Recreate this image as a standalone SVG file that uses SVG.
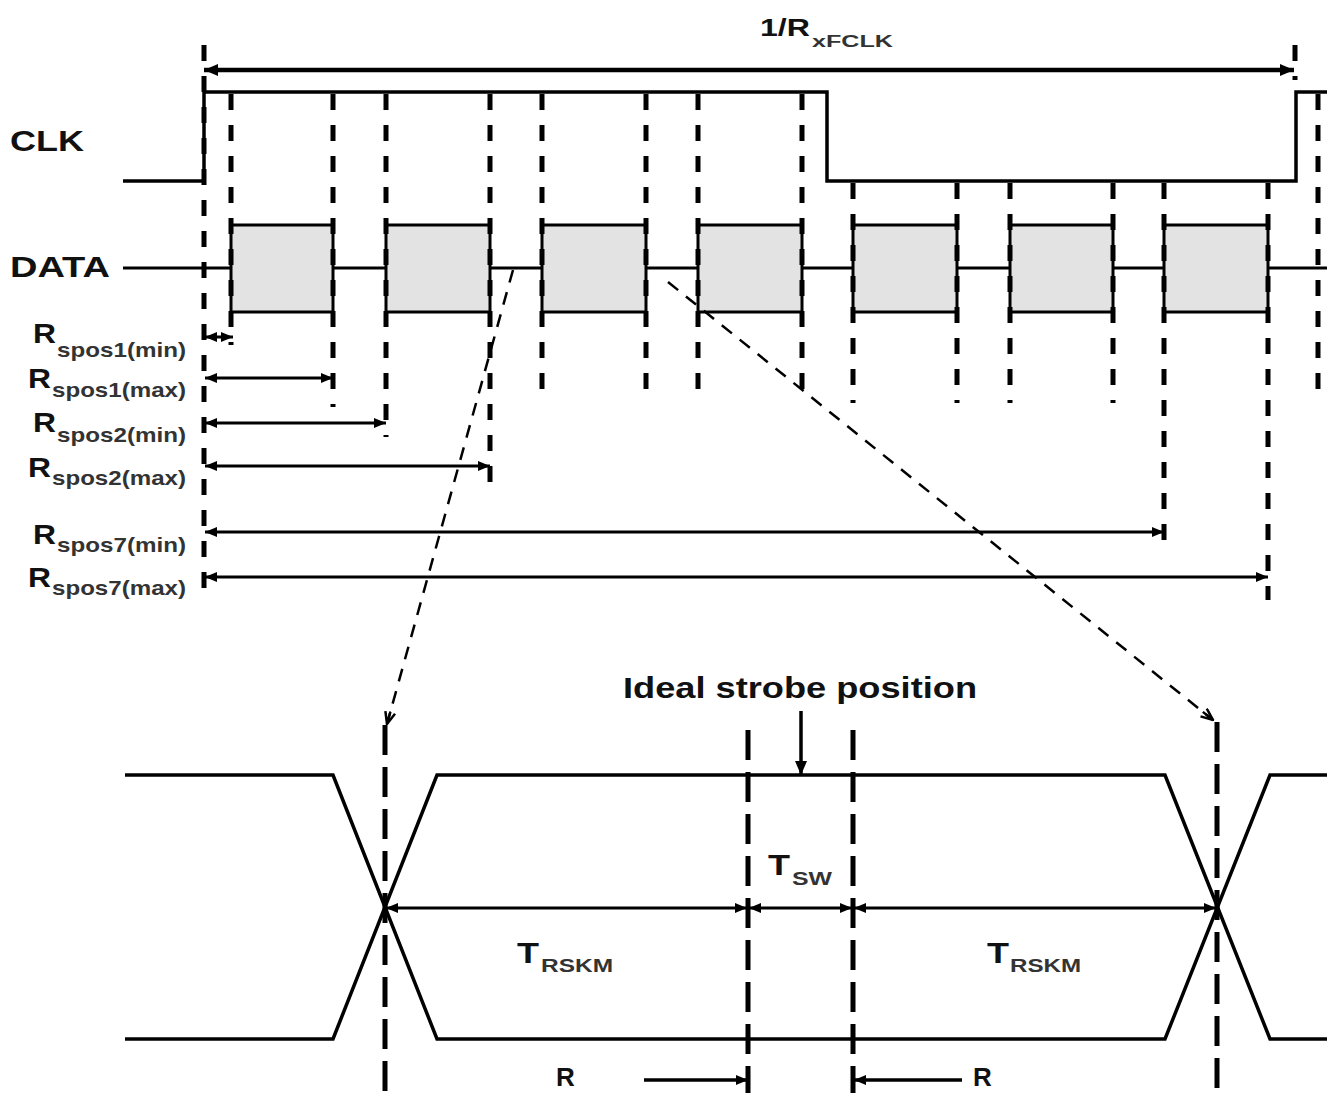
<svg xmlns="http://www.w3.org/2000/svg" width="1327" height="1093" viewBox="0 0 1327 1093">
<style>
text{font-family:"Liberation Sans",Arial,sans-serif;font-weight:bold;fill:#111}
.sub{fill:#333}
.sig{fill:none;stroke:#000;stroke-width:3.5}
.vd{fill:none;stroke:#000;stroke-width:5;stroke-dasharray:16 15}
.vb{fill:none;stroke:#000;stroke-width:5;stroke-dasharray:30 12}
.box{fill:#e3e3e3;stroke:#000;stroke-width:3}
.arr{fill:none;stroke:#000;stroke-width:3;marker-start:url(#ah);marker-end:url(#ah)}
.zoom{fill:none;stroke:#000;stroke-width:2.5;stroke-dasharray:13 10;marker-end:url(#oh)}
</style>
<defs>
<marker id="ah" viewBox="0 0 12 10" refX="12" refY="5" markerWidth="12" markerHeight="10" orient="auto-start-reverse" markerUnits="userSpaceOnUse"><path d="M0,0 L12,5 L0,10 z" fill="#000"/></marker>
<marker id="ahb" viewBox="0 0 14 12" refX="14" refY="6" markerWidth="14" markerHeight="12" orient="auto-start-reverse" markerUnits="userSpaceOnUse"><path d="M0,0 L14,6 L0,12 z" fill="#000"/></marker>
<marker id="oh" viewBox="0 0 14 12" refX="13" refY="6" markerWidth="14" markerHeight="12" orient="auto" markerUnits="userSpaceOnUse"><path d="M1,1 L13,6 L1,11 M13,6 L0,6" fill="none" stroke="#000" stroke-width="2.5"/></marker>
</defs>

<g id="labels">
<text x="10" y="151" font-size="29" textLength="74" lengthAdjust="spacingAndGlyphs">CLK</text>
<text x="10" y="277" font-size="29" textLength="100" lengthAdjust="spacingAndGlyphs">DATA</text>
<text x="760" y="36" font-size="24" textLength="50" lengthAdjust="spacingAndGlyphs">1/R</text>
<text class="sub" x="812" y="47" font-size="16" textLength="81" lengthAdjust="spacingAndGlyphs">xFCLK</text>
</g>

<g id="clk-signal">
<path class="sig" d="M123,181 H204 V92 H827 V181 H1296 V92 H1327"/>
</g>

<g id="data-signal">
<line x1="123" y1="268" x2="1327" y2="268" stroke="#000" stroke-width="3"/>
<rect class="box" x="231" y="225" width="102" height="87"/>
<rect class="box" x="386" y="225" width="104" height="87"/>
<rect class="box" x="542" y="225" width="104" height="87"/>
<rect class="box" x="698" y="225" width="104" height="87"/>
<rect class="box" x="853" y="225" width="104" height="87"/>
<rect class="box" x="1010" y="225" width="103" height="87"/>
<rect class="box" x="1164" y="225" width="104" height="87"/>
</g>

<g id="strobe-lines">
<line class="vd" x1="204" y1="45" x2="204" y2="600"/>
<line class="vd" x1="1295" y1="45" x2="1295" y2="80"/>
<line class="vd" x1="231" y1="94" x2="231" y2="345"/>
<line class="vd" x1="333" y1="94" x2="333" y2="407"/>
<line class="vd" x1="386" y1="94" x2="386" y2="437"/>
<line class="vd" x1="490" y1="94" x2="490" y2="490"/>
<line class="vd" x1="542" y1="94" x2="542" y2="403"/>
<line class="vd" x1="646" y1="94" x2="646" y2="403"/>
<line class="vd" x1="698" y1="94" x2="698" y2="403"/>
<line class="vd" x1="802" y1="94" x2="802" y2="403"/>
<line class="vd" x1="853" y1="183" x2="853" y2="403"/>
<line class="vd" x1="957" y1="183" x2="957" y2="403"/>
<line class="vd" x1="1010" y1="183" x2="1010" y2="403"/>
<line class="vd" x1="1113" y1="183" x2="1113" y2="403"/>
<line class="vd" x1="1164" y1="183" x2="1164" y2="555"/>
<line class="vd" x1="1268" y1="183" x2="1268" y2="600"/>
<line class="vd" x1="1318" y1="94" x2="1318" y2="403"/>
</g>

<g id="period">
<line x1="204" y1="70" x2="1294" y2="70" stroke="#000" stroke-width="4.5" marker-start="url(#ahb)" marker-end="url(#ahb)"/>
</g>

<g id="rspos">
<line class="arr" x1="205" y1="337" x2="233" y2="337"/>
<line class="arr" x1="205" y1="378" x2="333" y2="378"/>
<line class="arr" x1="205" y1="423" x2="386" y2="423"/>
<line class="arr" x1="205" y1="466" x2="490" y2="466" stroke-width="4"/>
<line class="arr" x1="205" y1="532" x2="1164" y2="532"/>
<line class="arr" x1="205" y1="577" x2="1268" y2="577"/>
<text x="33" y="343" font-size="28" textLength="23" lengthAdjust="spacingAndGlyphs">R</text><text class="sub" x="57" y="357" font-size="21" textLength="129" lengthAdjust="spacingAndGlyphs">spos1(min)</text>
<text x="28" y="388" font-size="28" textLength="23" lengthAdjust="spacingAndGlyphs">R</text><text class="sub" x="52" y="397" font-size="21" textLength="134" lengthAdjust="spacingAndGlyphs">spos1(max)</text>
<text x="33" y="432" font-size="28" textLength="23" lengthAdjust="spacingAndGlyphs">R</text><text class="sub" x="57" y="442" font-size="21" textLength="129" lengthAdjust="spacingAndGlyphs">spos2(min)</text>
<text x="28" y="477" font-size="28" textLength="23" lengthAdjust="spacingAndGlyphs">R</text><text class="sub" x="52" y="485" font-size="21" textLength="134" lengthAdjust="spacingAndGlyphs">spos2(max)</text>
<text x="33" y="544" font-size="28" textLength="23" lengthAdjust="spacingAndGlyphs">R</text><text class="sub" x="57" y="552" font-size="21" textLength="129" lengthAdjust="spacingAndGlyphs">spos7(min)</text>
<text x="28" y="587" font-size="28" textLength="23" lengthAdjust="spacingAndGlyphs">R</text><text class="sub" x="52" y="595" font-size="21" textLength="134" lengthAdjust="spacingAndGlyphs">spos7(max)</text>
</g>

<g id="zoom-connectors">
<line class="zoom" x1="513" y1="270" x2="387" y2="724"/>
<line class="zoom" x1="668" y1="282" x2="1213" y2="720"/>
</g>

<g id="eye">
<path class="sig" stroke-width="3" d="M125,775 H333 L437,1039 H1165 L1270,775 H1327"/>
<path class="sig" stroke-width="3" d="M125,1039 H333 L437,775 H1165 L1270,1039 H1327"/>
</g>

<g id="eye-lines">
<line class="vb" x1="385" y1="725" x2="385" y2="1093"/>
<line class="vb" x1="1217" y1="722" x2="1217" y2="1093"/>
<line class="vb" x1="748" y1="730" x2="748" y2="1093"/>
<line class="vb" x1="853" y1="730" x2="853" y2="1093"/>
</g>

<g id="ideal-strobe">
<text x="623" y="698" font-size="30" textLength="354" lengthAdjust="spacingAndGlyphs">Ideal strobe position</text>
<line x1="801" y1="711" x2="801" y2="775" stroke="#000" stroke-width="3.5" marker-end="url(#ahb)"/>
</g>

<g id="timing">
<line class="arr" x1="386" y1="908" x2="747" y2="908" stroke-width="4"/>
<line class="arr" x1="749" y1="908" x2="852" y2="908" stroke-width="4"/>
<line class="arr" x1="854" y1="908" x2="1216" y2="908" stroke-width="4"/>
<text x="768" y="875" font-size="30" textLength="22" lengthAdjust="spacingAndGlyphs">T</text><text class="sub" x="792" y="885" font-size="18" textLength="40" lengthAdjust="spacingAndGlyphs">SW</text>
<text x="517" y="963" font-size="30" textLength="22" lengthAdjust="spacingAndGlyphs">T</text><text class="sub" x="541" y="972" font-size="18" textLength="72" lengthAdjust="spacingAndGlyphs">RSKM</text>
<text x="987" y="963" font-size="30" textLength="22" lengthAdjust="spacingAndGlyphs">T</text><text class="sub" x="1010" y="972" font-size="18" textLength="71" lengthAdjust="spacingAndGlyphs">RSKM</text>
</g>

<g id="bottom-r">
<line x1="644" y1="1080" x2="748" y2="1080" stroke="#000" stroke-width="3.5" marker-end="url(#ah)"/>
<line x1="962" y1="1080" x2="854" y2="1080" stroke="#000" stroke-width="3.5" marker-end="url(#ah)"/>
<text x="556" y="1086" font-size="26">R</text>
<text x="973" y="1086" font-size="26">R</text>
</g>
</svg>
